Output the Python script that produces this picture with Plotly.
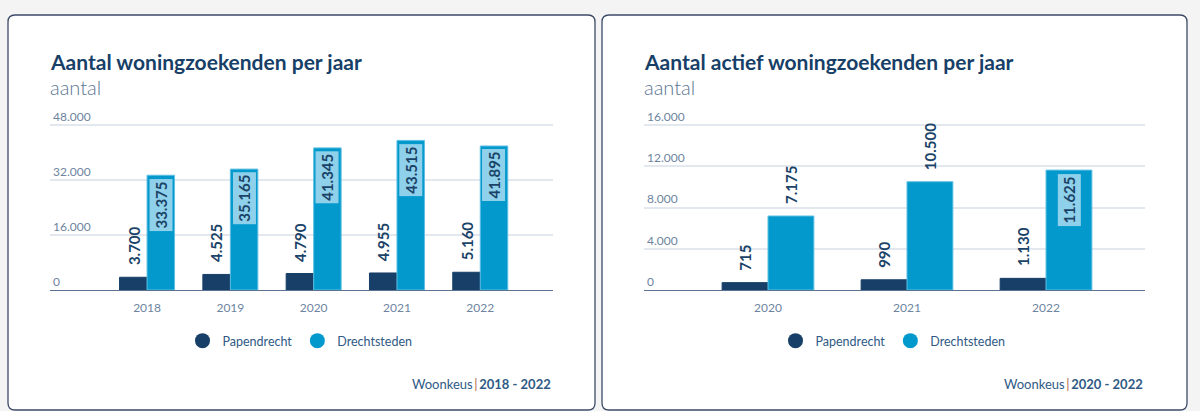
import plotly.graph_objects as go

# ---------------- data ----------------
years_left = ["2018", "2019", "2020", "2021", "2022"]
pap_left = [3700, 4525, 4790, 4955, 5160]
dre_left = [33375, 35165, 41345, 43515, 41895]
ticks_left = [0, 16000, 32000, 48000]

years_right = ["2020", "2021", "2022"]
pap_right = [715, 990, 1130]
dre_right = [7175, 10500, 11625]
ticks_right = [0, 4000, 8000, 12000, 16000]

series_names = ["Papendrecht", "Drechtsteden"]
title_left = "Aantal woningzoekenden per jaar"
title_right = "Aantal actief woningzoekenden per jaar"
subtitle = "aantal"
source_name = "Woonkeus"
period_left = "2018 - 2022"
period_right = "2020 - 2022"

# ---------------- style ----------------
W, H = 1200, 411
FONT = "Source Sans Pro, Lato, sans-serif"
NAVY = "#173f67"
BLUE = "#0399cc"
LABEL = "#1b4368"
TICK = "#6e84a0"
GRID = "#e3e8ef"
BOXBG = "#8fd0ea"
HEADROOM = 1.1  # extra axis room so the top tick label stays visible


def px(x):
    return x / W


def py(y):
    return 1 - y / H


def fmt(v):
    return f"{v:,}".replace(",", ".")


def rounded(x0, y0, x1, y1, r):
    X0, X1 = px(x0), px(x1)
    Y0, Y1 = py(y0), py(y1)
    rx, ry = r / W, r / H
    return (f"M{X0+rx},{Y0} L{X1-rx},{Y0} Q{X1},{Y0} {X1},{Y0-ry} "
            f"L{X1},{Y1+ry} Q{X1},{Y1} {X1-rx},{Y1} L{X0+rx},{Y1} "
            f"Q{X0},{Y1} {X0},{Y1+ry} L{X0},{Y0-ry} Q{X0},{Y0} {X0+rx},{Y0} Z")


panels = [
    dict(years=years_left, pap=pap_left, dre=dre_left, ticks=ticks_left,
         xd=(50, 553), xr=[-1.165, 4.873], title=title_left, period=period_left,
         card=(8, 15, 595, 410), legend="legend", leg_x=300, ax=""),
    dict(years=years_right, pap=pap_right, dre=dre_right, ticks=ticks_right,
         xd=(644, 1145), xr=[-0.892, 2.712], title=title_right, period=period_right,
         card=(602, 15, 1187, 410), legend="legend2", leg_x=893, ax="2"),
]

PLOT_TOP, PLOT_BOT = 125, 290
plot_h = PLOT_BOT - PLOT_TOP
DOM_TOP = PLOT_BOT - plot_h * HEADROOM
half = (1 - 0.34) / 4  # offset of each bar centre from category centre

fig = go.Figure()
annotations = []
shapes = []
layout = {}

for p in panels:
    xa, ya = "x" + p["ax"], "y" + p["ax"]
    ymax = p["ticks"][-1]
    for name, vals, col, lc in [(series_names[0], p["pap"], NAVY, NAVY),
                                (series_names[1], p["dre"], BLUE, "#5dbfe3")]:
        fig.add_trace(go.Bar(x=p["years"], y=vals, name=name, marker_color=col,
                             marker_line=dict(color=lc, width=1),
                             xaxis=xa, yaxis=ya, showlegend=False, hoverinfo="x+y"))
        fig.add_trace(go.Scatter(x=[None], y=[None], mode="markers", name=name,
                                 marker=dict(color=col, size=15, symbol="circle"),
                                 xaxis=xa, yaxis=ya, legend=p["legend"]))
    # data labels
    for i, v in enumerate(p["pap"]):
        annotations.append(dict(x=i - half, y=v, xref=xa, yref=ya, text=fmt(v),
                                textangle=-90, showarrow=False, yanchor="bottom",
                                yshift=10, font=dict(family=FONT, size=15, color=LABEL, weight="bold")))
    for i, v in enumerate(p["dre"]):
        t = fmt(v)
        bar_top_px = PLOT_BOT - v / ymax * plot_h
        label_top_px = bar_top_px - 12 - len(t) * 8
        inside = label_top_px < PLOT_TOP - 6
        a = dict(x=i + half, y=v, xref=xa, yref=ya, text=t, textangle=-90,
                 showarrow=False, font=dict(family=FONT, size=15, color=LABEL, weight="bold"))
        if inside:
            a.update(yanchor="top", yshift=-3, bgcolor=BOXBG, borderpad=2)
        else:
            a.update(yanchor="bottom", yshift=10)
        annotations.append(a)

    x0, y0, x1, y1 = p["card"]
    shapes.append(dict(type="path", xref="paper", yref="paper", layer="below",
                       path=rounded(x0, y0, x1, y1, 7), fillcolor="white",
                       line=dict(color="#3d4b68", width=1.3)))
    annotations.append(dict(x=px(p["xd"][0]), y=py(71), xref="paper", yref="paper",
                            xanchor="left", yanchor="bottom", showarrow=False,
                            text=f"<b>{p['title']}</b>", yshift=-5, xshift=-2,
                            font=dict(family=FONT, size=21, color=NAVY)))
    annotations.append(dict(x=px(p["xd"][0]), y=py(87), xref="paper", yref="paper",
                            xanchor="left", yanchor="middle", showarrow=False,
                            text=subtitle, xshift=-2,
                            font=dict(family=FONT, size=20, color="#5a7592", weight=300)))
    annotations.append(dict(x=px(p["xd"][1]), y=py(384), xref="paper", yref="paper",
                            xanchor="right", yanchor="middle", showarrow=False,
                            text=f"{source_name}<span style='color:#b5653c'>\u2009|\u2009</span><b>{p['period']}</b>",
                            font=dict(family=FONT, size=13, color="#2f5a85")))

    layout["xaxis" + p["ax"]] = dict(
        domain=[px(p["xd"][0]), px(p["xd"][1])], anchor=ya, range=p["xr"],
        type="category", showline=True, linecolor="#5b7290", linewidth=1.2,
        showgrid=False, ticks="", ticklabelstandoff=6,
        tickfont=dict(family=FONT, size=12, color=TICK), fixedrange=True)
    layout["yaxis" + p["ax"]] = dict(
        domain=[py(PLOT_BOT), py(DOM_TOP)], anchor=xa, range=[0, ymax * HEADROOM],
        tickvals=p["ticks"], tickformat=",d", ticklabelposition="inside top",
        showgrid=True, gridcolor=GRID, gridwidth=1.5, zeroline=False,
        showline=False, tickfont=dict(family=FONT, size=12, color=TICK),
        fixedrange=True)
    layout[p["legend"]] = dict(orientation="h", x=px(p["leg_x"]), y=py(341),
                               xanchor="center", yanchor="middle", itemwidth=30,
                               font=dict(family=FONT, size=12.5, color="#2f5a85"),
                               bgcolor="rgba(0,0,0,0)", traceorder="normal")

fig.update_layout(
    width=W, height=H, margin=dict(l=0, r=0, t=0, b=0),
    paper_bgcolor="#f4f4f4", plot_bgcolor="rgba(0,0,0,0)",
    barmode="group", bargap=0.34, bargroupgap=0, separators=",.",
    font=dict(family=FONT), shapes=shapes, annotations=annotations,
    **layout,
)

fig.write_html("out.html", config={"displayModeBar": False},
               post_script="document.body.style.margin='0';document.body.style.padding='0';")
